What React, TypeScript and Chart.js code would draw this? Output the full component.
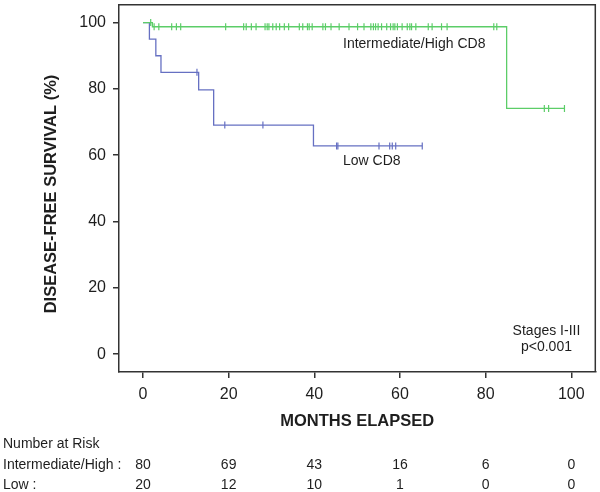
import React, { useEffect, useRef } from 'react';
import { Chart, registerables } from 'chart.js';

Chart.register(...registerables);

const X_TICKS = [0, 20, 40, 60, 80, 100];
const Y_TICKS = [0, 20, 40, 60, 80, 100];

const SERIES_NAMES = ['Intermediate/High CD8', 'Low CD8'];

// Kaplan-Meier steps: time of event (months) and survival (%) after it
const HIGH_EVENT_TIMES = [0, 2.2, 84.9, 98.4];
const HIGH_SURVIVAL = [100, 98.75, 74.1, 74.1];
const HIGH_CENSOR_TIMES = [
  1.8, 2.6, 3.7, 6.7, 7.8, 8.8, 19.3, 23.5, 24.1, 25.3, 26.4, 28.5, 29.0, 29.4, 30.3,
  31.1, 31.9, 33.0, 34.0, 36.5, 37.3, 38.4, 38.8, 39.5, 42.0, 42.6, 43.9, 45.8, 48.1,
  50.1, 51.6, 53.2, 53.8, 54.3, 54.9, 55.7, 56.9, 57.8, 58.4, 58.8, 59.4, 60.5, 61.7,
  62.3, 62.7, 63.7, 66.6, 67.5, 69.7, 71.0, 81.9, 82.6, 93.7, 94.7, 98.4,
];

const LOW_EVENT_TIMES = [0, 1.5, 3.0, 4.2, 13.0, 16.5, 39.8, 65.2];
const LOW_SURVIVAL = [100, 95, 90, 85, 79.7, 69.1, 62.8, 62.8];
const LOW_CENSOR_TIMES = [12.6, 19.1, 28.0, 45.2, 45.5, 55.1, 57.6, 58.2, 59.0, 65.2];

const RISK_TIMES = [0, 20, 40, 60, 80, 100];
const RISK_HIGH = [80, 69, 43, 16, 6, 0];
const RISK_LOW = [20, 12, 10, 1, 0, 0];
const RISK_TITLE = 'Number at Risk';
const RISK_LABELS = ['Intermediate/High :', 'Low :'];

const X_TITLE = 'MONTHS ELAPSED';
const Y_TITLE = 'DISEASE-FREE SURVIVAL (%)';
const STAGE_TEXT = ['Stages I-III', 'p<0.001'];

const GREEN = '#5ccd68';
const BLUE = '#6670c2';
const INK = '#1e1e1e';
const FONT = '"Liberation Sans", Arial, Helvetica, sans-serif';

function survivalAt(times: number[], surv: number[], t: number): number {
  let s = surv[0];
  for (let i = 0; i < times.length; i++) if (times[i] <= t) s = surv[i];
  return s;
}

const decorPlugin = {
  id: 'decor',
  afterDraw(chart: any) {
    const { ctx, chartArea: a, scales } = chart;
    const xs = scales.x;
    const ys = scales.y;
    ctx.save();
    // top and right edges of the frame
    ctx.strokeStyle = '#333';
    ctx.lineWidth = 1.5;
    ctx.beginPath();
    ctx.moveTo(a.left, a.top);
    ctx.lineTo(a.right, a.top);
    ctx.lineTo(a.right, a.bottom);
    ctx.stroke();

    ctx.fillStyle = INK;
    // axis titles
    ctx.font = `bold 16.5px ${FONT}`;
    ctx.textAlign = 'center';
    ctx.textBaseline = 'middle';
    ctx.fillText(X_TITLE, (a.left + a.right) / 2, 421);
    ctx.save();
    ctx.translate(51, 194);
    ctx.rotate(-Math.PI / 2);
    ctx.fillText(Y_TITLE, 0, 0);
    ctx.restore();

    // in-plot labels
    ctx.font = `14px ${FONT}`;
    ctx.textAlign = 'left';
    ctx.fillText(SERIES_NAMES[0], xs.getPixelForValue(46.7), ys.getPixelForValue(93.4));
    ctx.fillText(SERIES_NAMES[1], xs.getPixelForValue(46.7), ys.getPixelForValue(58.3));
    ctx.textAlign = 'center';
    ctx.fillText(STAGE_TEXT[0], xs.getPixelForValue(94.2), ys.getPixelForValue(6.9));
    ctx.fillText(STAGE_TEXT[1], xs.getPixelForValue(94.2), ys.getPixelForValue(2.1));

    // number at risk table
    ctx.textAlign = 'left';
    ctx.fillText(RISK_TITLE, 3, 444);
    ctx.fillText(RISK_LABELS[0], 3, 465);
    ctx.fillText(RISK_LABELS[1], 3, 485);
    ctx.textAlign = 'center';
    RISK_TIMES.forEach((t, i) => {
      const px = xs.getPixelForValue(t);
      ctx.fillText(String(RISK_HIGH[i]), px, 465);
      ctx.fillText(String(RISK_LOW[i]), px, 485);
    });
    ctx.restore();
  },
};

export default function App() {
  const canvasRef = useRef<HTMLCanvasElement | null>(null);

  useEffect(() => {
    if (!canvasRef.current) return;
    Chart.defaults.font.family = FONT;

    const highCurve = HIGH_EVENT_TIMES.map((t, i) => ({ x: t, y: HIGH_SURVIVAL[i] }));
    const lowCurve = LOW_EVENT_TIMES.map((t, i) => ({ x: t, y: LOW_SURVIVAL[i] }));
    const highCens = HIGH_CENSOR_TIMES.map((t) => ({
      x: t,
      y: survivalAt(HIGH_EVENT_TIMES, HIGH_SURVIVAL, t),
    }));
    const lowCens = LOW_CENSOR_TIMES.map((t) => ({
      x: t,
      y: survivalAt(LOW_EVENT_TIMES, LOW_SURVIVAL, t),
    }));

    const censorStyle = (color: string) => ({
      showLine: false,
      pointStyle: 'line' as const,
      rotation: 90,
      pointRadius: 3.5,
      pointHoverRadius: 3.5,
      pointBorderWidth: 1.2,
      pointBorderColor: color,
      pointBackgroundColor: color,
      borderColor: color,
    });

    const chart = new Chart(canvasRef.current, {
      type: 'line',
      data: {
        datasets: [
          {
            label: SERIES_NAMES[0],
            data: highCurve,
            stepped: 'before',
            borderColor: GREEN,
            borderWidth: 1.3,
            pointRadius: 0,
            fill: false,
          },
          { label: SERIES_NAMES[0] + ' censored', data: highCens, ...censorStyle(GREEN) },
          {
            label: SERIES_NAMES[1],
            data: lowCurve,
            stepped: 'before',
            borderColor: BLUE,
            borderWidth: 1.3,
            pointRadius: 0,
            fill: false,
          },
          { label: SERIES_NAMES[1] + ' censored', data: lowCens, ...censorStyle(BLUE) },
        ],
      },
      options: {
        responsive: false,
        animation: false,
        layout: { padding: { top: 3, right: 3, left: 0, bottom: 0 } },
        plugins: {
          legend: { display: false },
          tooltip: { enabled: false },
          title: { display: false },
        },
        scales: {
          x: {
            type: 'linear',
            min: -5.6,
            max: 105.6,
            afterBuildTicks: (s: any) => {
              s.ticks = X_TICKS.map((v) => ({ value: v }));
            },
            afterFit: (s: any) => {
              s.height = 120;
              s.paddingLeft = 0;
              s.paddingRight = 0;
            },
            grid: {
              display: true,
              drawOnChartArea: false,
              drawTicks: true,
              tickLength: 6,
              color: '#333',
              lineWidth: 1.5,
            },
            border: { display: true, color: '#333', width: 1.5 },
            ticks: {
              font: { size: 16, family: FONT },
              color: INK,
              padding: 7,
              maxRotation: 0,
            },
          },
          y: {
            type: 'linear',
            min: -5.4,
            max: 105.4,
            afterBuildTicks: (s: any) => {
              s.ticks = Y_TICKS.map((v) => ({ value: v }));
            },
            afterFit: (s: any) => {
              s.width = 119;
              s.paddingTop = 0;
              s.paddingBottom = 0;
            },
            grid: {
              display: true,
              drawOnChartArea: false,
              drawTicks: true,
              tickLength: 6,
              color: '#333',
              lineWidth: 1.5,
            },
            border: { display: true, color: '#333', width: 1.5 },
            ticks: {
              font: { size: 16, family: FONT },
              color: INK,
              padding: 7,
            },
          },
        },
      },
      plugins: [decorPlugin],
    });

    return () => chart.destroy();
  }, []);

  return (
    <div style={{ position: 'fixed', left: 0, top: 0, width: 600, height: 492, background: '#fff' }}>
      <canvas ref={canvasRef} width={600} height={492} style={{ display: 'block' }} />
    </div>
  );
}
